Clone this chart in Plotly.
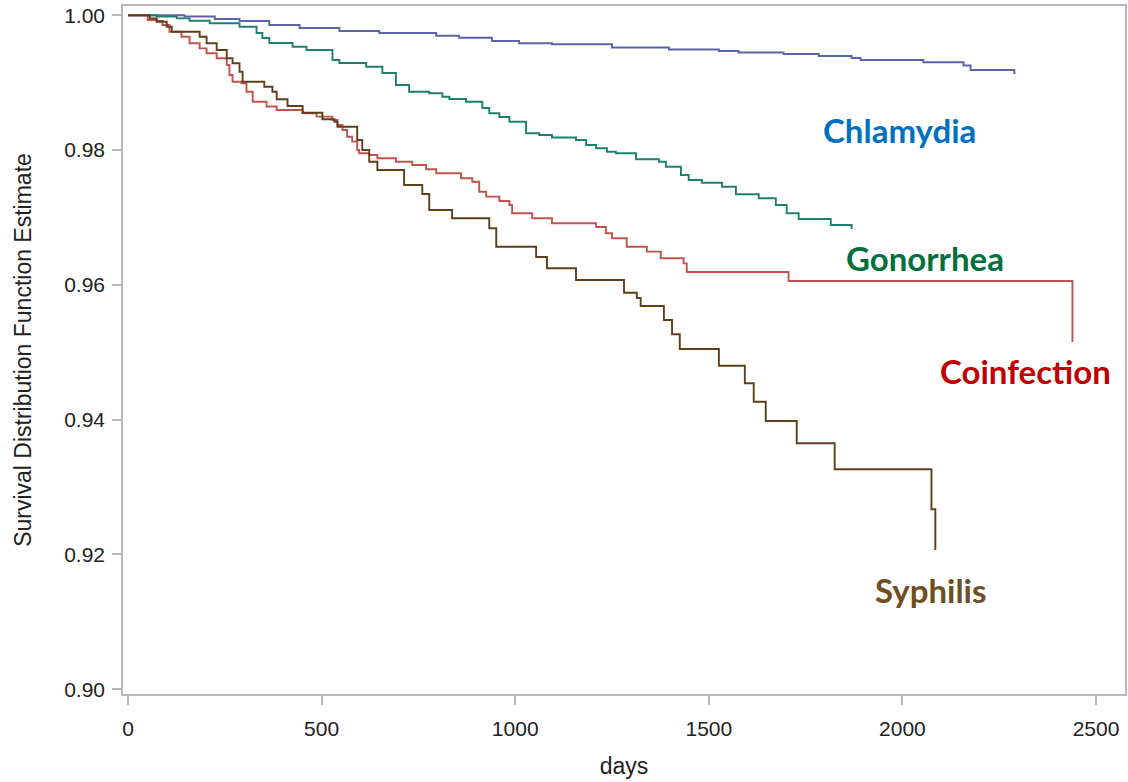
import plotly.graph_objects as go

# ---- data ----
chl_days = [0, 146, 224, 288, 365, 443, 546, 649, 796, 855, 940, 1010, 1095, 1250, 1397, 1526,
            1577, 1693, 1784, 1869, 1892, 2054, 2158, 2176, 2289, 2292]
chl_surv = [1.0, .99982, .99945, .99915, .99856, .99812, .99767, .99737, .99697, .99668, .99619,
            .99585, .99570, .99522, .99493, .99470, .99448, .99426, .99396, .99366, .99337,
            .99303, .99255, .99188, .99144, .99144]

gon_days = [0, 74, 126, 159, 211, 288, 332, 347, 365, 425, 461, 528, 546, 615, 657, 692, 726,
            778, 812, 830, 873, 915, 933, 959, 985, 1028, 1062, 1095, 1157, 1183, 1209, 1237,
            1260, 1312, 1371, 1389, 1428, 1448, 1482, 1534, 1570, 1629, 1673, 1701, 1732, 1815, 1869]
gon_surv = [1.0, .99982, .99955, .99920, .99881, .99831, .99737, .99663, .99589, .99534, .99485,
            .99337, .99292, .99237, .99144, .98966, .98866, .98843, .98792, .98758, .98718,
            .98625, .98546, .98491, .98421, .98249, .98224, .98187, .98150, .98076, .98027,
            .97976, .97953, .97864, .97828, .97754, .97631, .97556, .97516, .97457, .97344,
            .97285, .97185, .97062, .96978, .96889, .96829]

coi_days = [0, 51, 74, 89, 107, 138, 159, 185, 203, 229, 255, 262, 270, 293, 306, 322, 358, 384,
            451, 487, 528, 541, 554, 566, 579, 592, 597, 623, 644, 692, 734, 770, 796, 860, 889,
            907, 925, 959, 985, 992, 1044, 1095, 1209, 1234, 1250, 1288, 1340, 1376, 1435, 1443,
            1706, 2439]
coi_surv = [1.0, .99930, .99915, .99856, .99757, .99682, .99585, .99510, .99436, .99362, .99263,
            .99114, .99015, .98991, .98866, .98718, .98646, .98595, .98546, .98496, .98447,
            .98372, .98298, .98199, .98125, .98001, .97953, .97927, .97878, .97828, .97779,
            .97715, .97656, .97582, .97531, .97383, .97309, .97245, .97185, .97062, .96988,
            .96914, .96859, .96766, .96691, .96567, .96493, .96395, .96320, .96191, .96058,
            .95153]

syp_days = [0, 56, 74, 100, 113, 185, 203, 229, 255, 270, 288, 296, 352, 373, 384, 412, 451, 502,
            533, 541, 592, 605, 623, 644, 713, 760, 778, 837, 933, 951, 1054, 1082, 1157, 1281,
            1314, 1324, 1384, 1405, 1425, 1526, 1593, 1616, 1647, 1727, 1825, 2075, 2085]
syp_surv = [1.0, .99955, .99905, .99831, .99757, .99682, .99585, .99485, .99362, .99288, .99163,
            .99015, .98941, .98866, .98754, .98654, .98555, .98457, .98421, .98347, .98150,
            .98001, .97828, .97705, .97482, .97349, .97111, .96988, .96840, .96567, .96414,
            .96246, .96073, .95884, .95806, .95687, .95479, .95267, .95049, .94801, .94540,
            .94267, .93981, .93650, .93264, .92671, .92067]

series_names = ["Chlamydia", "Gonorrhea", "Coinfection", "Syphilis"]
x_ticks = [0, 500, 1000, 1500, 2000, 2500]
y_ticks = [0.90, 0.92, 0.94, 0.96, 0.98, 1.00]
y_tick_text = ["0.90", "0.92", "0.94", "0.96", "0.98", "1.00"]

line_colors = ["#5b64aa", "#1f8070", "#c4524c", "#5e3f18"]
label_colors = ["#0070c0", "#00703c", "#c00000", "#6f4e22"]
label_pos = [(1992, 0.98298), (2059, 0.96399), (2318, 0.94723), (2075, 0.91473)]

fig = go.Figure()
for name, xs, ys, col in zip(series_names,
                             [chl_days, gon_days, coi_days, syp_days],
                             [chl_surv, gon_surv, coi_surv, syp_surv],
                             line_colors):
    fig.add_trace(go.Scatter(x=xs, y=ys, mode="lines", line=dict(shape="hv", color=col, width=1.9),
                             name=name, showlegend=False))

for name, (px, py), col in zip(series_names, label_pos, label_colors):
    fig.add_annotation(x=px, y=py, text="<b>%s</b>" % name, showarrow=False,
                       font=dict(family="Lato", size=33, color=col), xanchor="center", yanchor="middle")

axis_common = dict(showline=True, mirror=True, linecolor="#b5b9bd", linewidth=1.5,
                   ticks="outside", ticklen=9, tickcolor="#b5b9bd", tickwidth=1.5,
                   showgrid=False, zeroline=False,
                   tickfont=dict(family="Liberation Sans", size=21, color="#222222"))

title_font = dict(family="Liberation Sans", size=23, color="#222222")

fig.update_layout(
    width=1128, height=782,
    paper_bgcolor="white", plot_bgcolor="white",
    margin=dict(l=123, r=1, t=6, b=88),
    xaxis=dict(range=[-12.9, 2574.8], tickvals=x_ticks, ticklabelstandoff=6,
               title=dict(text="days", font=title_font, standoff=19),
               **axis_common),
    yaxis=dict(range=[0.89930, 1.00138], tickvals=y_ticks, ticktext=y_tick_text, ticklabelstandoff=3,
               title=dict(text="Survival Distribution Function Estimate", font=title_font, standoff=26),
               **axis_common),
)

fig.write_html("out.html")
